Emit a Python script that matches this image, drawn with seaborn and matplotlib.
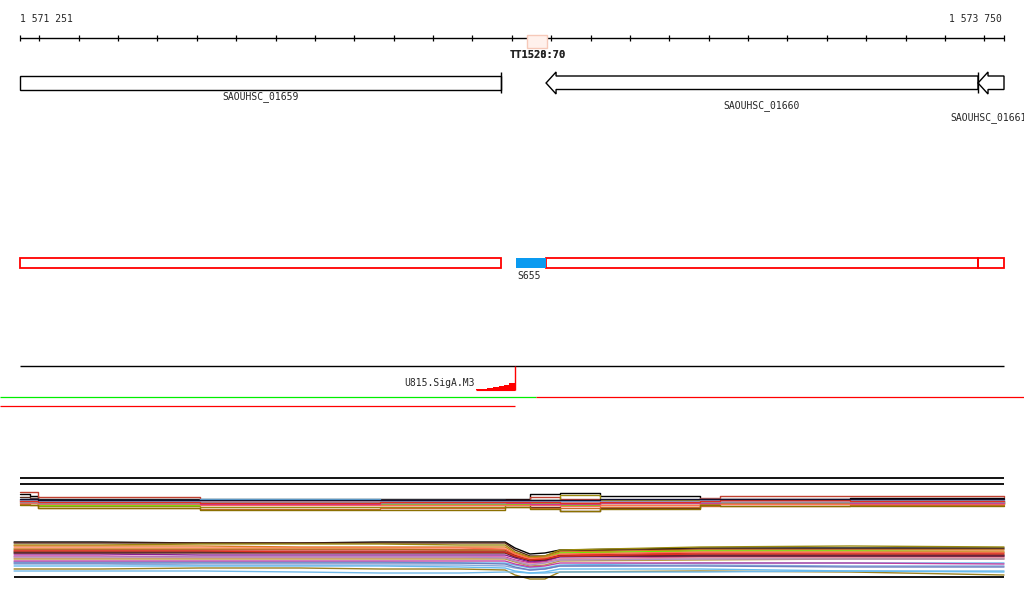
import matplotlib
matplotlib.use("Agg")
import matplotlib.pyplot as plt
import seaborn as sns
import pandas as pd
from matplotlib.patches import Rectangle, Polygon

# ---------------- data ----------------
VIEW_START = 1571251
VIEW_END = 1573750
TICK_STEP = 100
start_label = "1 571 251"
end_label = "1 573 750"

gene_names = ["SAOUHSC_01659", "SAOUHSC_01660", "SAOUHSC_01661"]
gene_starts = [1571251, 1572587, 1573684]
gene_ends = [1572473, 1573684, 1573750]
gene_strand = ["+", "-", "-"]

terminator_name = "TT1520:70"
terminator_overlap_name = "TT1528:70"
terminator_start = 1572539
terminator_end = 1572590

region_starts = [1571251, 1572587, 1573684]
region_ends = [1572473, 1573684, 1573750]
srna_name = "S655"
srna_start = 1572511
srna_end = 1572587

promoter_name = "U815.SigA.M3"
promoter_pos = 1572508
stair_pos = [1572409, 1572437, 1572452, 1572467, 1572480, 1572493, 1572508]
stair_h = [1, 2, 3, 4, 5, 7, 7]

green_seg = (1571200, 1572562)
red_seg_top = (1572562, 1573801)
red_seg_low = (1571200, 1572508)

# expression tracks: group 1 (upper) and group 2 (lower)
g1_pos = [1571251, 1571276, 1571297, 1571708, 1572165, 1572483, 1572546,
          1572622, 1572724, 1572978, 1573029, 1573359, 1573750]
g1_vals = {
    "a01": [494, 496, 499, 499, 499, 499, 494, 493, 496, 499, 499, 498, 498],
    "a02": [492, 492, 497, 500, 500, 500, 497, 499, 500, 498, 496, 496, 497],
    "a03": [497, 498, 502, 503, 502, 503, 507, 511, 508, 502, 502, 501, 501],
    "a04": [499, 499, 500, 499, 500, 501, 500, 501, 500, 499, 500, 500, 499],
    "a05": [501, 502, 504, 504, 505, 504, 504, 505, 505, 504, 503, 503, 504],
    "a06": [500, 501, 506, 507, 507, 505, 500, 495, 500, 503, 502, 503, 502],
    "a07": [503, 503, 505, 503, 504, 504, 503, 505, 503, 503, 502, 504, 502],
    "a08": [500, 500, 501, 502, 501, 502, 502, 503, 502, 502, 501, 501, 502],
    "a09": [501, 501, 502, 501, 502, 502, 502, 502, 502, 501, 501, 501, 501],
    "a10": [503, 503, 504, 505, 505, 505, 505, 506, 505, 505, 504, 504, 504],
    "a11": [504, 505, 508, 509, 508, 507, 508, 508, 507, 506, 506, 505, 505],
    "a12": [502, 502, 503, 504, 503, 503, 504, 504, 503, 503, 502, 503, 503],
    "a13": [502, 502, 503, 502, 503, 502, 502, 503, 502, 502, 502, 502, 502],
    "a14": [500, 500, 501, 500, 501, 501, 501, 501, 501, 500, 500, 500, 500],
    "a15": [505, 505, 508, 510, 510, 507, 509, 511, 509, 505, 506, 506, 506],
    "a16": [501, 501, 502, 503, 502, 502, 502, 503, 502, 501, 500, 501, 501],
    "a17": [499, 499, 500, 500, 500, 500, 500, 500, 499, 499, 499, 499, 499],
}
g1_colors = {
    "a01": "#000000", "a02": "#c04030", "a03": "#5a2a1a", "a04": "#66bbee",
    "a05": "#e0702a", "a06": "#9a8a10", "a07": "#66ee00", "a08": "#8a2090",
    "a09": "#e8a0a0", "a10": "#ff7050", "a11": "#c86a2a", "a12": "#cc3399",
    "a13": "#9090a0", "a14": "#88aadd", "a15": "#8b7000", "a16": "#e03020",
    "a17": "#101030",
}

g2_pos = [1571236, 1571454, 1571708, 1571962, 1572165, 1572368, 1572483,
          1572508, 1572546, 1572584, 1572622, 1572978, 1573359, 1573750]
g2_vals = {
    "b01": [542, 542, 543, 543, 542, 542, 542, 548, 554, 553, 550, 548, 548, 548],
    "b02": [543, 543, 543, 543, 543, 543, 543, 550, 556, 556, 551, 549, 549, 549],
    "b03": [545, 545, 544, 544, 544, 545, 545, 552, 557, 556, 550, 547, 546, 547],
    "b04": [546, 546, 546, 547, 547, 547, 547, 553, 558, 557, 552, 550, 550, 550],
    "b05": [549, 549, 549, 549, 549, 550, 550, 555, 560, 558, 553, 551, 551, 552],
    "b06": [550, 550, 550, 550, 550, 550, 550, 555, 560, 559, 555, 553, 553, 553],
    "b07": [548, 548, 548, 548, 548, 548, 549, 554, 559, 558, 554, 552, 552, 552],
    "b08": [552, 552, 552, 552, 552, 552, 552, 556, 561, 560, 556, 555, 555, 555],
    "b09": [554, 554, 555, 555, 555, 555, 555, 558, 562, 561, 557, 556, 556, 556],
    "b10": [556, 556, 557, 557, 557, 557, 557, 560, 563, 562, 559, 557, 557, 557],
    "b11": [558, 558, 558, 558, 558, 558, 558, 561, 564, 563, 559, 558, 558, 558],
    "b12": [553, 553, 553, 553, 553, 553, 553, 557, 560, 560, 556, 556, 556, 556],
    "b13": [559, 559, 559, 559, 559, 559, 559, 562, 566, 565, 561, 560, 559, 559],
    "b14": [562, 562, 562, 562, 562, 563, 563, 565, 568, 568, 565, 563, 563, 563],
    "b15": [564, 564, 565, 565, 565, 565, 566, 568, 570, 569, 566, 565, 566, 566],
    "b16": [561, 561, 561, 561, 561, 561, 561, 564, 567, 566, 563, 563, 563, 564],
    "b17": [569, 569, 568, 568, 569, 569, 570, 575, 579, 579, 572, 571, 572, 575],
    "b18": [571, 571, 571, 572, 573, 573, 572, 572, 573, 573, 572, 572, 571, 571],
    "b19": [566, 566, 566, 566, 566, 567, 568, 571, 573, 572, 569, 569, 571, 572],
    "b20": [551, 551, 551, 552, 552, 552, 552, 556, 560, 559, 556, 554, 554, 554],
    "b21": [557, 557, 557, 557, 557, 557, 558, 561, 565, 563, 560, 559, 559, 559],
    "b22": [563, 563, 563, 563, 563, 563, 564, 567, 570, 569, 566, 566, 567, 567],
}
g2_colors = {
    "b01": "#000000", "b02": "#5a2a1a", "b03": "#9a8a10", "b04": "#d87a20",
    "b05": "#66ee00", "b06": "#d0302a", "b07": "#ff7050", "b08": "#101010",
    "b09": "#8a2090", "b10": "#cc3399", "b11": "#e8a0a0", "b12": "#602020",
    "b13": "#bb9944", "b14": "#66bbee", "b15": "#88aadd", "b16": "#c040a0",
    "b17": "#9b8020", "b18": "#70b8e8", "b19": "#66bbee", "b20": "#e03020",
    "b21": "#b090c0", "b22": "#6a80c0",
}
baseline_g2 = 577

# ---------------- layout helpers ----------------
W, H = 1024, 611
BP_PER_PX = (VIEW_END - VIEW_START) / 984.0
XL = VIEW_START - 20 * BP_PER_PX
XR = VIEW_END + 20 * BP_PER_PX

sns.set_theme(style="white")
plt.rcParams["font.family"] = ["DejaVu Sans Mono", "DejaVu Sans"]
FS = 7

fig = plt.figure(figsize=(W / 100, H / 100), dpi=100)
ax = fig.add_axes([0, 0, 1, 1])
ax.set_xlim(XL, XR)
ax.set_ylim(H, 0)
ax.axis("off")

# ruler
ax.text(VIEW_START, 19, start_label, fontsize=FS, ha="left", va="center")
ax.text(VIEW_END - 2 * BP_PER_PX, 19, end_label, fontsize=FS, ha="right", va="center")
ax.hlines(38, VIEW_START, VIEW_END, color="black", lw=1.0)
ticks = [VIEW_START] + list(range((VIEW_START // TICK_STEP + 1) * TICK_STEP, VIEW_END, TICK_STEP)) + [VIEW_END]
ax.vlines(ticks, 35, 41, color="black", lw=0.9)

# terminator highlight
ax.add_patch(Rectangle((terminator_start, 35), terminator_end - terminator_start, 13,
                       facecolor="#fff1ec", edgecolor="#f6c9b9", lw=1.0, zorder=3))
tmid = (terminator_start + terminator_end) / 2
ax.text(tmid, 55, terminator_name, fontsize=FS + 0.5, ha="center", va="center", fontweight="bold", zorder=4)
ax.text(tmid, 55, terminator_overlap_name, fontsize=FS + 0.5, ha="center", va="center", fontweight="bold", zorder=4)

# genes
HEAD = 10 * BP_PER_PX
for name, s, e, st in zip(gene_names, gene_starts, gene_ends, gene_strand):
    vs, ve = max(s, VIEW_START), min(e, VIEW_END)
    if st == "+":
        ax.add_patch(Rectangle((vs, 76), ve - vs, 13.5, facecolor="white", edgecolor="black", lw=1.0))
        ax.vlines(ve, 72, 93, color="black", lw=1.0)
    else:
        hb = s + HEAD
        pts = [(s, 83), (hb, 72), (hb, 76), (ve, 76), (ve, 89.5), (hb, 89.5), (hb, 94)]
        ax.add_patch(Polygon(pts, closed=True, facecolor="white", edgecolor="black", lw=1.0))
        if e < VIEW_END:
            ax.vlines(ve, 72, 93, color="black", lw=1.0)
gene_label_y = [97, 106, 118]
ax.text((gene_starts[0] + gene_ends[0]) / 2, gene_label_y[0], gene_names[0], fontsize=FS, ha="center", va="center")
ax.text((gene_starts[1] + gene_ends[1]) / 2, gene_label_y[1], gene_names[1], fontsize=FS, ha="center", va="center")
ax.text(gene_starts[2] - 28 * BP_PER_PX, gene_label_y[2], gene_names[2], fontsize=FS, ha="left", va="center")

# red regions and sRNA
for s, e in zip(region_starts, region_ends):
    ax.add_patch(Rectangle((s, 258), e - s, 10, facecolor="none", edgecolor="#ff0000", lw=1.3))
ax.add_patch(Rectangle((srna_start, 258), srna_end - srna_start, 10, facecolor="#0a9af0", edgecolor="none"))
ax.text(srna_start + 1 * BP_PER_PX, 276, srna_name, fontsize=FS, ha="left", va="center")

# promoter track
ax.hlines(366, VIEW_START, VIEW_END, color="black", lw=1.0)
ax.vlines(promoter_pos, 366, 390, color="#ff0000", lw=1.0)
ax.fill_between(stair_pos, [390 - h for h in stair_h], 390, step="post", color="#ff0000", lw=0)
ax.hlines(389.5, stair_pos[0], promoter_pos, color="#ff0000", lw=0.8)
ax.text(stair_pos[0] - 1 * BP_PER_PX, 383, promoter_name, fontsize=FS, ha="right", va="center")

ax.hlines(397, green_seg[0], green_seg[1], color="#00ee00", lw=0.9)
ax.hlines(397, red_seg_top[0], red_seg_top[1], color="#ff0000", lw=0.9)
ax.hlines(406, red_seg_low[0], red_seg_low[1], color="#ff0000", lw=0.9)

# expression tracks
ax.hlines([478, 484], VIEW_START, VIEW_END, color="black", lw=1.3)

rows = []
for k, v in g1_vals.items():
    for p, y in zip(g1_pos, v):
        rows.append({"pos": p, "val": y, "track": k})
df1 = pd.DataFrame(rows)
rows = []
for k, v in g2_vals.items():
    for p, y in zip(g2_pos, v):
        rows.append({"pos": p, "val": y, "track": k})
df2 = pd.DataFrame(rows)

sns.lineplot(data=df1, x="pos", y="val", hue="track", palette=g1_colors, estimator=None,
             legend=False, lw=1.0, ax=ax, drawstyle="steps-post")
sns.lineplot(data=df2, x="pos", y="val", hue="track", palette=g2_colors, estimator=None,
             legend=False, lw=1.0, ax=ax)
ax.hlines(baseline_g2, g2_pos[0], VIEW_END, color="black", lw=1.3)

ax.set_xlim(XL, XR)
ax.set_ylim(H, 0)
ax.axis("off")
fig.savefig("out.png", dpi=100)
